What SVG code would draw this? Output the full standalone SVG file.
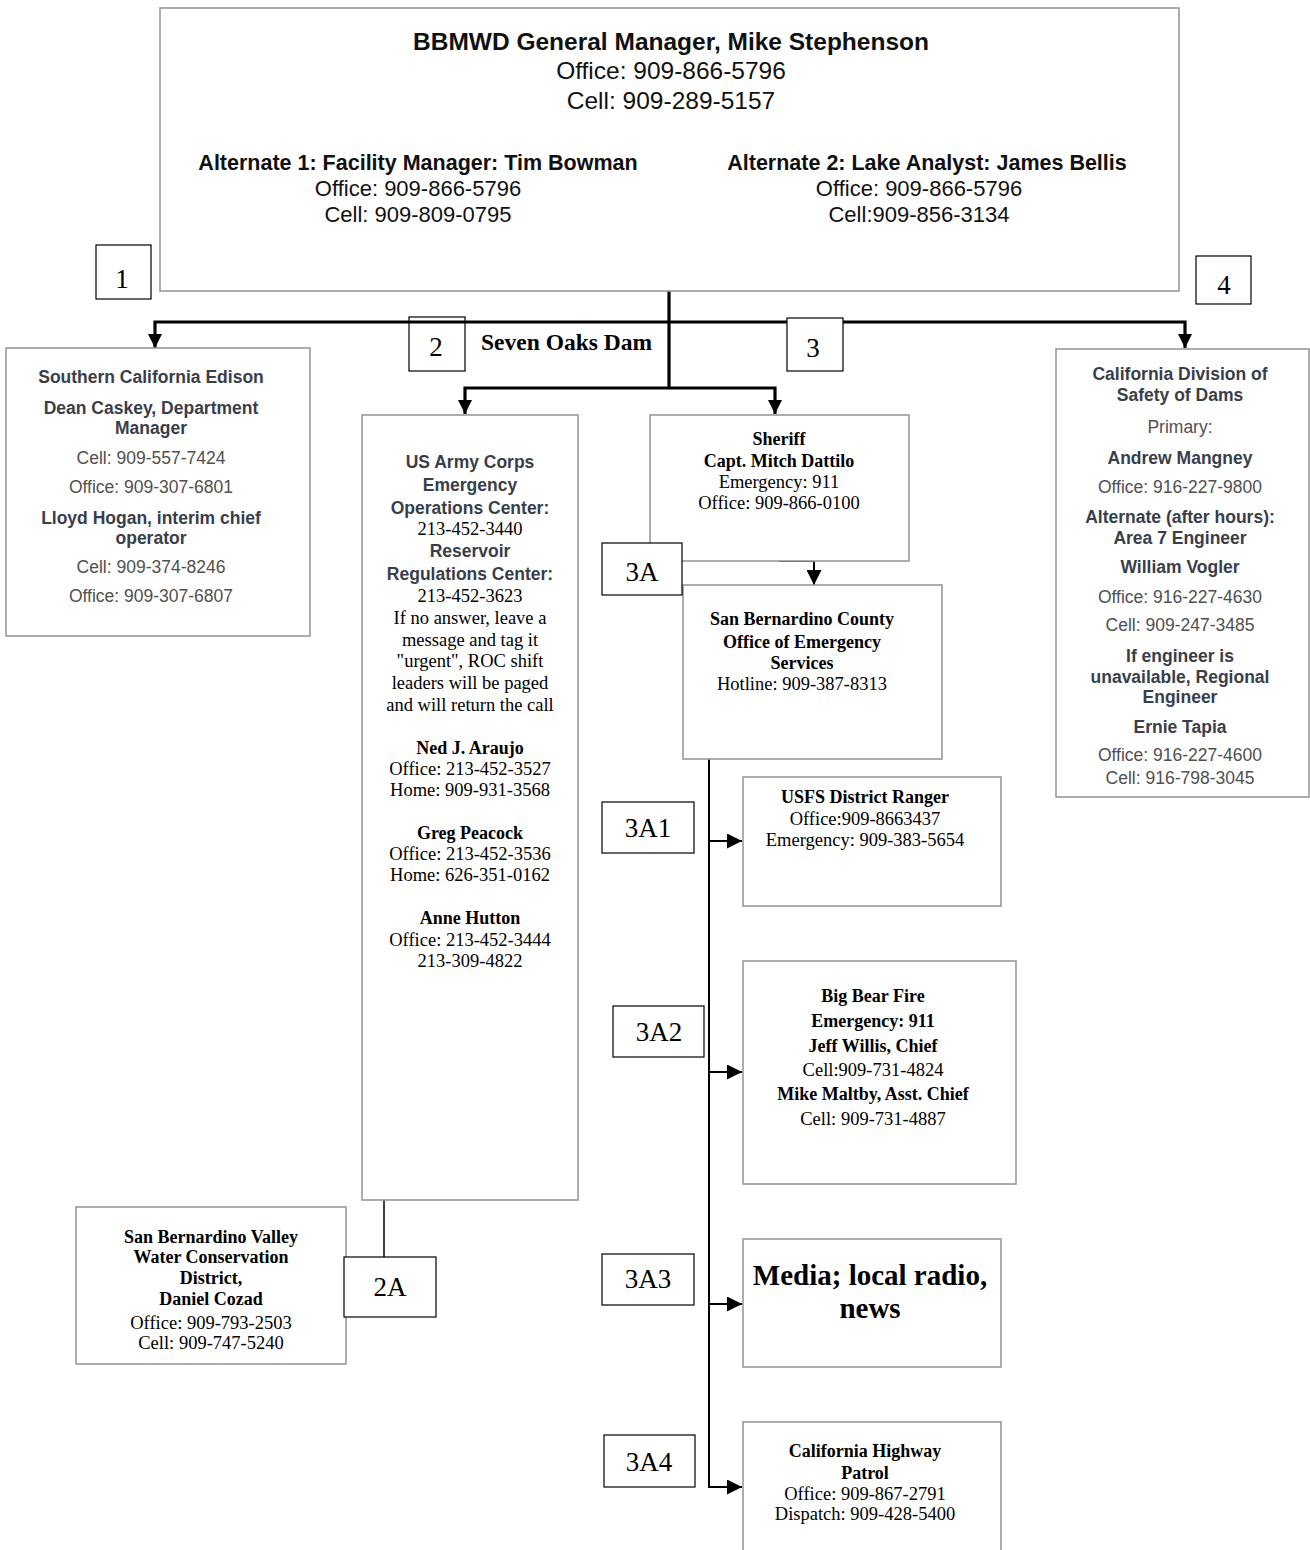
<svg xmlns="http://www.w3.org/2000/svg" width="1310" height="1550" viewBox="0 0 1310 1550">
<style>
text{text-anchor:middle}
.node{fill:#fff;stroke:#999;stroke-width:1.6}
.lbl{fill:#fff;stroke:#000;stroke-width:1.2}
.lbln{fill:none;stroke:#000;stroke-width:1.2}
.lt{font-family:"Liberation Serif","Times New Roman",serif;font-size:27px;fill:#000}
.hb{font-family:"Liberation Sans",Arial,sans-serif;font-weight:bold;fill:#111}
.hr{font-family:"Liberation Sans",Arial,sans-serif;fill:#111}
.sb{font-family:"Liberation Sans",Arial,sans-serif;font-weight:bold;font-size:17.5px;fill:#383e4a}
.sr{font-family:"Liberation Sans",Arial,sans-serif;font-size:17.5px;fill:#505050}
.tb{font-family:"Liberation Serif","Times New Roman",serif;font-weight:bold;font-size:18px;fill:#000}
.tr{font-family:"Liberation Serif","Times New Roman",serif;font-size:18.5px;fill:#000}
.thick{fill:none;stroke:#000;stroke-width:3.2}
.thin{fill:none;stroke:#000;stroke-width:2}
.hair{fill:none;stroke:#000;stroke-width:1.5}
</style>
<defs>
<marker id="ahB" viewBox="0 0 14 14" markerWidth="14" markerHeight="14" refX="14" refY="7" orient="auto" markerUnits="userSpaceOnUse"><path d="M0,0 L14,7 L0,14 z" fill="#000"/></marker>
<marker id="ahS" viewBox="0 0 14 14" markerWidth="15" markerHeight="15" refX="14" refY="7" orient="auto" markerUnits="userSpaceOnUse"><path d="M0,0 L14,7 L0,14 z" fill="#000"/></marker>
</defs>

<g id="connectors">
<path class="thick" d="M669,291 V388"/>
<path class="thick" d="M669,322 H155 V348" marker-end="url(#ahB)"/>
<path class="thick" d="M669,322 H1185 V348" marker-end="url(#ahB)"/>
<path class="thick" d="M669,388 H465 V414" marker-end="url(#ahB)"/>
<path class="thick" d="M669,388 H775 V414" marker-end="url(#ahB)"/>
<path class="thin" d="M779,561 H814 V585" marker-end="url(#ahS)"/>
<path class="thin" d="M709,759 V1487 H742" marker-end="url(#ahS)"/>
<path class="thin" d="M709,841 H742" marker-end="url(#ahS)"/>
<path class="thin" d="M709,1072 H742" marker-end="url(#ahS)"/>
<path class="thin" d="M709,1304 H742" marker-end="url(#ahS)"/>
<path class="hair" d="M384,1200 V1257"/>
</g>

<g id="gm">
<rect class="node" x="160" y="8" width="1019" height="283"/>
<text class="hb" x="671" y="50" font-size="24.5">BBMWD General Manager, Mike Stephenson</text>
<text class="hr" x="671" y="79" font-size="24.5">Office: 909-866-5796</text>
<text class="hr" x="671" y="109" font-size="24.5">Cell: 909-289-5157</text>
<text class="hb" x="418" y="170" font-size="21.5">Alternate 1: Facility Manager: Tim Bowman</text>
<text class="hr" x="418" y="196" font-size="22">Office: 909-866-5796</text>
<text class="hr" x="418" y="222" font-size="22">Cell: 909-809-0795</text>
<text class="hb" x="927" y="170" font-size="21.5">Alternate 2: Lake Analyst: James Bellis</text>
<text class="hr" x="919" y="196" font-size="22">Office: 909-866-5796</text>
<text class="hr" x="919" y="222" font-size="22">Cell:909-856-3134</text>
</g>

<g id="label-1"><rect class="lbl" x="96" y="245" width="55" height="54"/><text class="lt" x="122" y="288">1</text></g>
<g id="label-4"><rect class="lbl" x="1196" y="256" width="55" height="48"/><text class="lt" x="1224" y="294">4</text></g>
<g id="label-2"><rect class="lbln" x="409" y="317" width="56" height="54"/><text class="lt" x="436" y="356">2</text></g>
<g id="label-3"><rect class="lbl" x="787" y="318" width="56" height="53"/><text class="lt" x="813" y="357">3</text></g>
<g id="seven-oaks"><text x="481" y="350" style="text-anchor:start;font-family:'Liberation Serif','Times New Roman',serif;font-weight:bold;font-size:23.5px">Seven Oaks Dam</text></g>

<g id="sce">
<rect class="node" x="6" y="348" width="304" height="288"/>
<text class="sb" x="151" y="383">Southern California Edison</text>
<text class="sb" x="151" y="414">Dean Caskey, Department</text>
<text class="sb" x="151" y="434">Manager</text>
<text class="sr" x="151" y="464">Cell: 909-557-7424</text>
<text class="sr" x="151" y="493">Office: 909-307-6801</text>
<text class="sb" x="151" y="524">Lloyd Hogan, interim chief</text>
<text class="sb" x="151" y="544">operator</text>
<text class="sr" x="151" y="573">Cell: 909-374-8246</text>
<text class="sr" x="151" y="602">Office: 909-307-6807</text>
</g>

<g id="army">
<rect class="node" x="362" y="415" width="216" height="785"/>
<text class="sb" x="470" y="468">US Army Corps</text>
<text class="sb" x="470" y="491">Emergency</text>
<text class="sb" x="470" y="514">Operations Center:</text>
<text class="tr" x="470" y="535">213-452-3440</text>
<text class="sb" x="470" y="557">Reservoir</text>
<text class="sb" x="470" y="580">Regulations Center:</text>
<text class="tr" x="470" y="602">213-452-3623</text>
<text class="tr" x="470" y="624">If no answer, leave a</text>
<text class="tr" x="470" y="646">message and tag it</text>
<text class="tr" x="470" y="667">"urgent", ROC shift</text>
<text class="tr" x="470" y="689">leaders will be paged</text>
<text class="tr" x="470" y="711">and will return the call</text>
<text class="tb" x="470" y="754">Ned J. Araujo</text>
<text class="tr" x="470" y="775">Office: 213-452-3527</text>
<text class="tr" x="470" y="796">Home: 909-931-3568</text>
<text class="tb" x="470" y="839">Greg Peacock</text>
<text class="tr" x="470" y="860">Office: 213-452-3536</text>
<text class="tr" x="470" y="881">Home: 626-351-0162</text>
<text class="tb" x="470" y="924">Anne Hutton</text>
<text class="tr" x="470" y="946">Office: 213-452-3444</text>
<text class="tr" x="470" y="967">213-309-4822</text>
</g>

<g id="sbvwcd">
<rect class="node" x="76" y="1207" width="270" height="157"/>
<text class="tb" x="211" y="1243">San Bernardino Valley</text>
<text class="tb" x="211" y="1263">Water Conservation</text>
<text class="tb" x="211" y="1284">District,</text>
<text class="tb" x="211" y="1305">Daniel Cozad</text>
<text class="tr" x="211" y="1329">Office: 909-793-2503</text>
<text class="tr" x="211" y="1349">Cell: 909-747-5240</text>
</g>
<g id="label-2A"><rect class="lbl" x="344" y="1257" width="92" height="60"/><text class="lt" x="390" y="1296">2A</text></g>

<g id="sheriff">
<rect class="node" x="650" y="415" width="259" height="146"/>
<text class="tb" x="779" y="445">Sheriff</text>
<text class="tb" x="779" y="467">Capt. Mitch Dattilo</text>
<text class="tr" x="779" y="488">Emergency: 911</text>
<text class="tr" x="779" y="509">Office: 909-866-0100</text>
</g>

<g id="sb-county">
<rect class="node" x="683" y="585" width="259" height="174"/>
<text class="tb" x="802" y="625">San Bernardino County</text>
<text class="tb" x="802" y="648">Office of Emergency</text>
<text class="tb" x="802" y="669">Services</text>
<text class="tr" x="802" y="690">Hotline: 909-387-8313</text>
</g>
<g id="label-3A"><rect class="lbl" x="602" y="543" width="80" height="52"/><text class="lt" x="642" y="581">3A</text></g>

<g id="usfs">
<rect class="node" x="743" y="777" width="258" height="129"/>
<text class="tb" x="865" y="803">USFS District Ranger</text>
<text class="tr" x="865" y="825">Office:909-8663437</text>
<text class="tr" x="865" y="846">Emergency: 909-383-5654</text>
</g>
<g id="label-3A1"><rect class="lbl" x="602" y="802" width="92" height="51"/><text class="lt" x="648" y="837">3A1</text></g>

<g id="bigbear">
<rect class="node" x="743" y="961" width="273" height="223"/>
<text class="tb" x="873" y="1002">Big Bear Fire</text>
<text class="tb" x="873" y="1027">Emergency: 911</text>
<text class="tb" x="873" y="1052">Jeff Willis, Chief</text>
<text class="tr" x="873" y="1076">Cell:909-731-4824</text>
<text class="tb" x="873" y="1100">Mike Maltby, Asst. Chief</text>
<text class="tr" x="873" y="1125">Cell: 909-731-4887</text>
</g>
<g id="label-3A2"><rect class="lbl" x="613" y="1006" width="91" height="51"/><text class="lt" x="659" y="1041">3A2</text></g>

<g id="media">
<rect class="node" x="743" y="1239" width="258" height="128"/>
<text x="870" y="1285" style="font-family:'Liberation Serif','Times New Roman',serif;font-weight:bold;font-size:29px">Media; local radio,</text>
<text x="870" y="1318" style="font-family:'Liberation Serif','Times New Roman',serif;font-weight:bold;font-size:29px">news</text>
</g>
<g id="label-3A3"><rect class="lbl" x="602" y="1254" width="92" height="51"/><text class="lt" x="648" y="1288">3A3</text></g>

<g id="chp">
<rect class="node" x="743" y="1422" width="258" height="160"/>
<text class="tb" x="865" y="1457">California Highway</text>
<text class="tb" x="865" y="1479">Patrol</text>
<text class="tr" x="865" y="1500">Office: 909-867-2791</text>
<text class="tr" x="865" y="1520">Dispatch: 909-428-5400</text>
</g>
<g id="label-3A4"><rect class="lbl" x="604" y="1435" width="91" height="52"/><text class="lt" x="649" y="1471">3A4</text></g>

<g id="dsod">
<rect class="node" x="1056" y="349" width="253" height="448"/>
<text class="sb" x="1180" y="380">California Division of</text>
<text class="sb" x="1180" y="401">Safety of Dams</text>
<text class="sr" x="1180" y="433">Primary:</text>
<text class="sb" x="1180" y="464">Andrew Mangney</text>
<text class="sr" x="1180" y="493">Office: 916-227-9800</text>
<text class="sb" x="1180" y="523">Alternate (after hours):</text>
<text class="sb" x="1180" y="544">Area 7 Engineer</text>
<text class="sb" x="1180" y="573">William Vogler</text>
<text class="sr" x="1180" y="603">Office: 916-227-4630</text>
<text class="sr" x="1180" y="631">Cell: 909-247-3485</text>
<text class="sb" x="1180" y="662">If engineer is</text>
<text class="sb" x="1180" y="683">unavailable, Regional</text>
<text class="sb" x="1180" y="703">Engineer</text>
<text class="sb" x="1180" y="733">Ernie Tapia</text>
<text class="sr" x="1180" y="761">Office: 916-227-4600</text>
<text class="sr" x="1180" y="784">Cell: 916-798-3045</text>
</g>
</svg>
